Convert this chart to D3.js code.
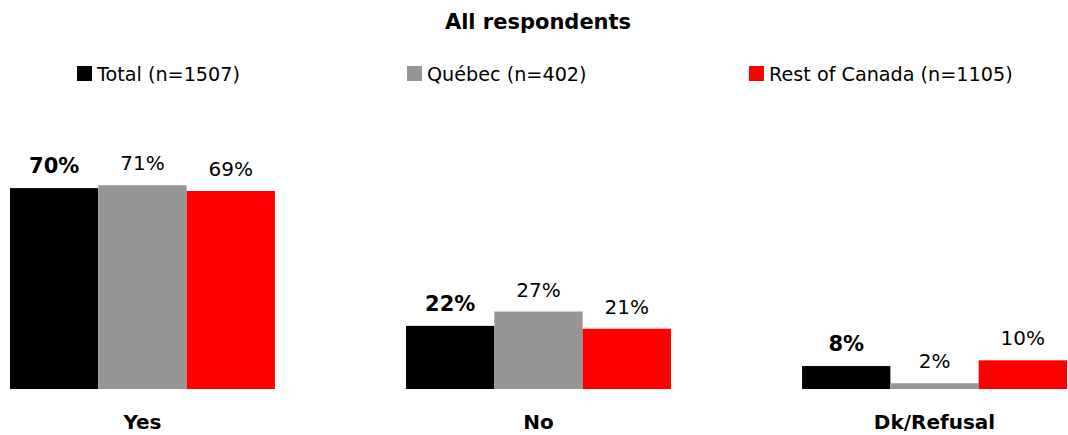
<!DOCTYPE html>
<html><head><meta charset="utf-8">
<script src="https://cdn.jsdelivr.net/npm/d3@7"></script>
<style>body{margin:0;background:#fff;} svg{display:block;font-family:"DejaVu Sans",Verdana,sans-serif;}</style>
</head><body>
<svg id="chart" width="1068" height="435"></svg>
<script>
const categories = ["Yes", "No", "Dk/Refusal"];
const seriesNames = ["Total (n=1507)", "Québec (n=402)", "Rest of Canada (n=1105)"];
const seriesColors = ["#000000", "#969696", "#ff0000"];
const totalValues = [70, 22, 8];
const quebecValues = [71, 27, 2];
const rocValues = [69, 21, 10];
const seriesValues = [totalValues, quebecValues, rocValues];
const title = "All respondents";

const svg = d3.select("#chart");
const baseline = 389;
const x0 = d3.scaleBand().domain(categories).range([10, 1067]).paddingInner(0.331).paddingOuter(0);
const x1 = d3.scaleBand().domain(d3.range(3)).range([0, x0.bandwidth()]).padding(0);
const y = d3.scaleLinear().domain([0, 100]).range([baseline, baseline - 287]);

svg.append("text").attr("x", 538).attr("y", 29).attr("text-anchor", "middle")
  .attr("font-weight", "bold").attr("font-size", 21).text(title);

const legendX = [77, 407, 749];
seriesNames.forEach((n, i) => {
  const g = svg.append("g").attr("transform", `translate(${legendX[i]},0)`);
  g.append("rect").attr("x", 0).attr("y", 66).attr("width", 15).attr("height", 15).attr("fill", seriesColors[i]);
  g.append("text").attr("x", 20).attr("y", 81).attr("font-size", 19.2).text(n);
});

categories.forEach((c, ci) => {
  const g = svg.append("g").attr("transform", `translate(${x0(c)},0)`);
  seriesValues.forEach((vals, si) => {
    const v = vals[ci];
    g.append("rect").attr("x", x1(si)).attr("width", x1.bandwidth())
      .attr("y", y(v)).attr("height", baseline - y(v)).attr("fill", seriesColors[si]);
    g.append("text").attr("x", x1(si) + x1.bandwidth() / 2).attr("y", y(v) - 15)
      .attr("text-anchor", "middle").attr("font-size", si === 0 ? 21 : 20)
      .attr("font-weight", si === 0 ? "bold" : "normal").text(v + "%");
  });
  svg.append("text").attr("x", x0(c) + x0.bandwidth() / 2).attr("y", 429)
    .attr("text-anchor", "middle").attr("font-weight", "bold").attr("font-size", 20).text(c);
});
</script>
</body></html>
